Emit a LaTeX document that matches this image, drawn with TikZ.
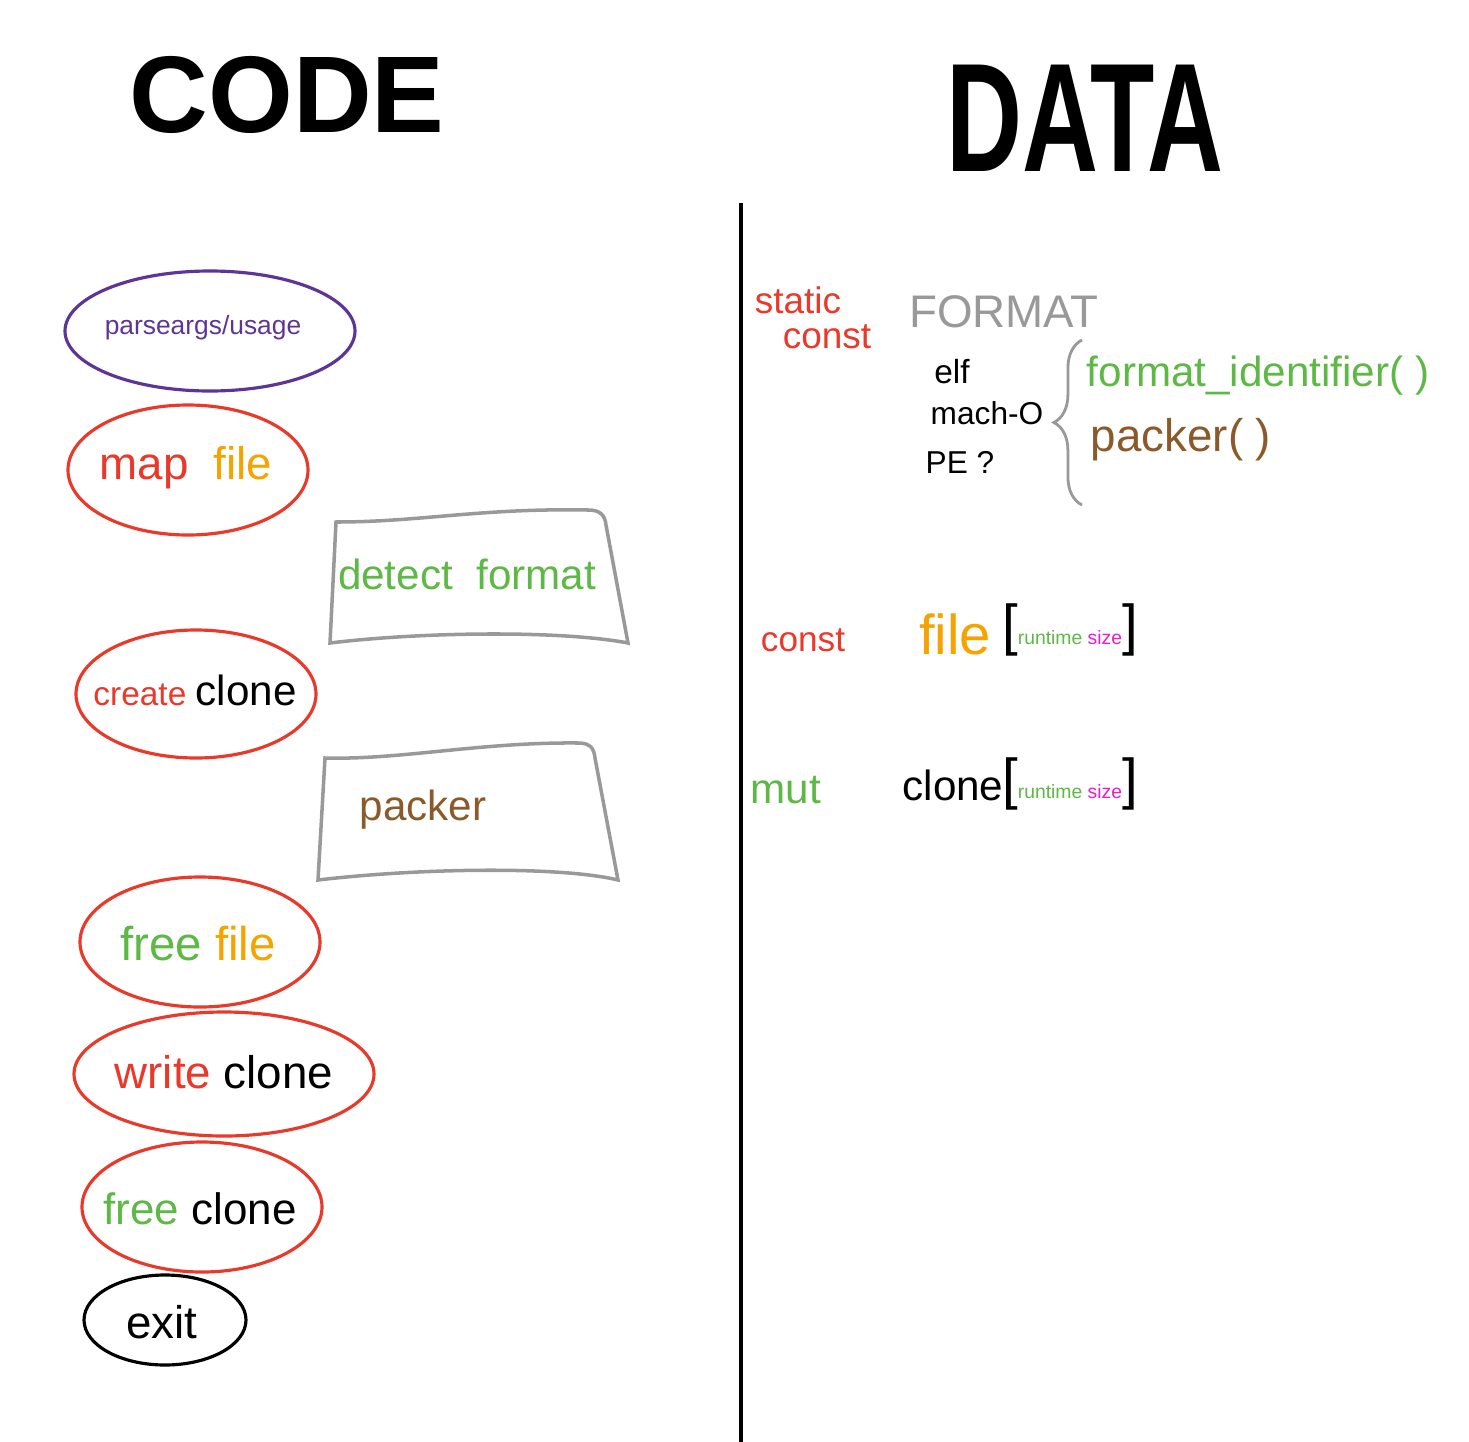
\documentclass[tikz,border=0pt]{standalone}
\usepackage{fontspec}
\setmainfont{Liberation Sans}
\usetikzlibrary{decorations.pathreplacing}

\definecolor{penred}{HTML}{E8392A}
\definecolor{penorange}{HTML}{F5A300}
\definecolor{pengreen}{HTML}{5DB845}
\definecolor{penpurple}{HTML}{5E3596}
\definecolor{penbrown}{HTML}{8B5A2B}
\definecolor{pengray}{HTML}{999999}
\definecolor{penpink}{HTML}{E81CCC}

\newcommand{\penfont}[1]{\fontsize{#1}{#1}\selectfont}
\newcommand{\rtsize}{{\penfont{16}[}{\penfont{5.5}\color{pengreen}runtime \color{penpink}size}{\penfont{16}]}}

\begin{document}
\begin{tikzpicture}[x=0.01cm, y=-0.01cm,
    codeoval/.style={draw=#1, line width=0.9pt},
    stepbox/.style={draw=pengray, line width=1pt}]
  \useasboundingbox (0,0) rectangle (1469,1442);

  % headings and divider
  \node (code) at (287,95) {\penfont{31}\bfseries CODE};
  \node (data) at (1085,118) {\penfont{44}\bfseries\scalebox{0.68}[1]{DATA}};
  \draw[line width=1pt] (741,203) -- (741,1442);

  % code side
  \node (parse) at (203,328) {\penfont{7.5}\color{penpurple}parseargs/usage};
  \draw[codeoval=penpurple] (210,331) ellipse [x radius=145, y radius=60];

  \node (mapfile) at (186,468) {\penfont{13}\color{penred}map \ \color{penorange}file};
  \draw[codeoval=penred] (188,470) ellipse [x radius=120, y radius=65];

  \draw[stepbox] (336,522) .. controls (420,522) and (480,508) .. (588,510)
     .. controls (600,510) and (605,515) .. (606,525) -- (628,643)
     .. controls (560,630) and (420,632) .. (330,643) -- cycle;
  \node (detect) at (467,574) {\penfont{12}\color{pengreen}detect \ format};

  \node (create) at (195,690) {\penfont{9.5}\color{penred}create \penfont{12}\color{black}clone};
  \draw[codeoval=penred] (196,694) ellipse [x radius=120, y radius=64];

  \draw[stepbox] (325,758) .. controls (400,760) and (480,742) .. (578,743)
     .. controls (590,743) and (594,748) .. (595,758) -- (618,880)
     .. controls (560,866) and (420,868) .. (318,880) -- cycle;
  \node (packer) at (423,810) {\penfont{12}\color{penbrown}packer};

  \node (freefile) at (198,944) {\penfont{13.5}\color{pengreen}free \color{penorange}file};
  \draw[codeoval=penred] (200,942) ellipse [x radius=120, y radius=65];

  \node (write) at (224,1072) {\penfont{13}\color{penred}write \color{black}clone};
  \draw[codeoval=penred] (224,1074) ellipse [x radius=150, y radius=62];

  \node (freeclone) at (200,1209) {\penfont{12.5}\color{pengreen}free \color{black}clone};
  \draw[codeoval=penred] (202,1207) ellipse [x radius=120, y radius=65];

  \node (exit) at (162,1322) {\penfont{13}exit};
  \draw[codeoval=black] (165,1320) ellipse [x radius=81, y radius=45];

  % data side
  \node[penred] (static) at (798,300) {\penfont{10.5}static};
  \node[penred] (sconst) at (827,337) {\penfont{10.5}const};
  \node[pengray] (fmt) at (1004,312) {\penfont{13}FORMAT};
  \node (elf) at (952,372) {\penfont{9.5}elf};
  \node (macho) at (987,413) {\penfont{9}mach-O};
  \node (pe) at (960,462) {\penfont{9}PE ?};
  \draw[pengray, line width=0.8pt, decorate, decoration={brace, amplitude=8pt}]
       (1082,505) -- (1082,340);
  \node[pengreen] (ident) at (1258,376) {\penfont{12}format\_identifier( )};
  \node[penbrown] (packfn) at (1181,440) {\penfont{13}packer( )};

  \node[penred] (constkw) at (803,640) {\penfont{10}const};
  \node[penorange] (filebuf) at (955,634) {\penfont{16}file};
  \node (filesize) at (1070,630) {\rtsize};

  \node[pengreen] (mutkw) at (786,790) {\penfont{12}mut};
  \node (clonebuf) at (953,785) {\penfont{12}clone};
  \node (clonesize) at (1070,784) {\rtsize};
\end{tikzpicture}
\end{document}
